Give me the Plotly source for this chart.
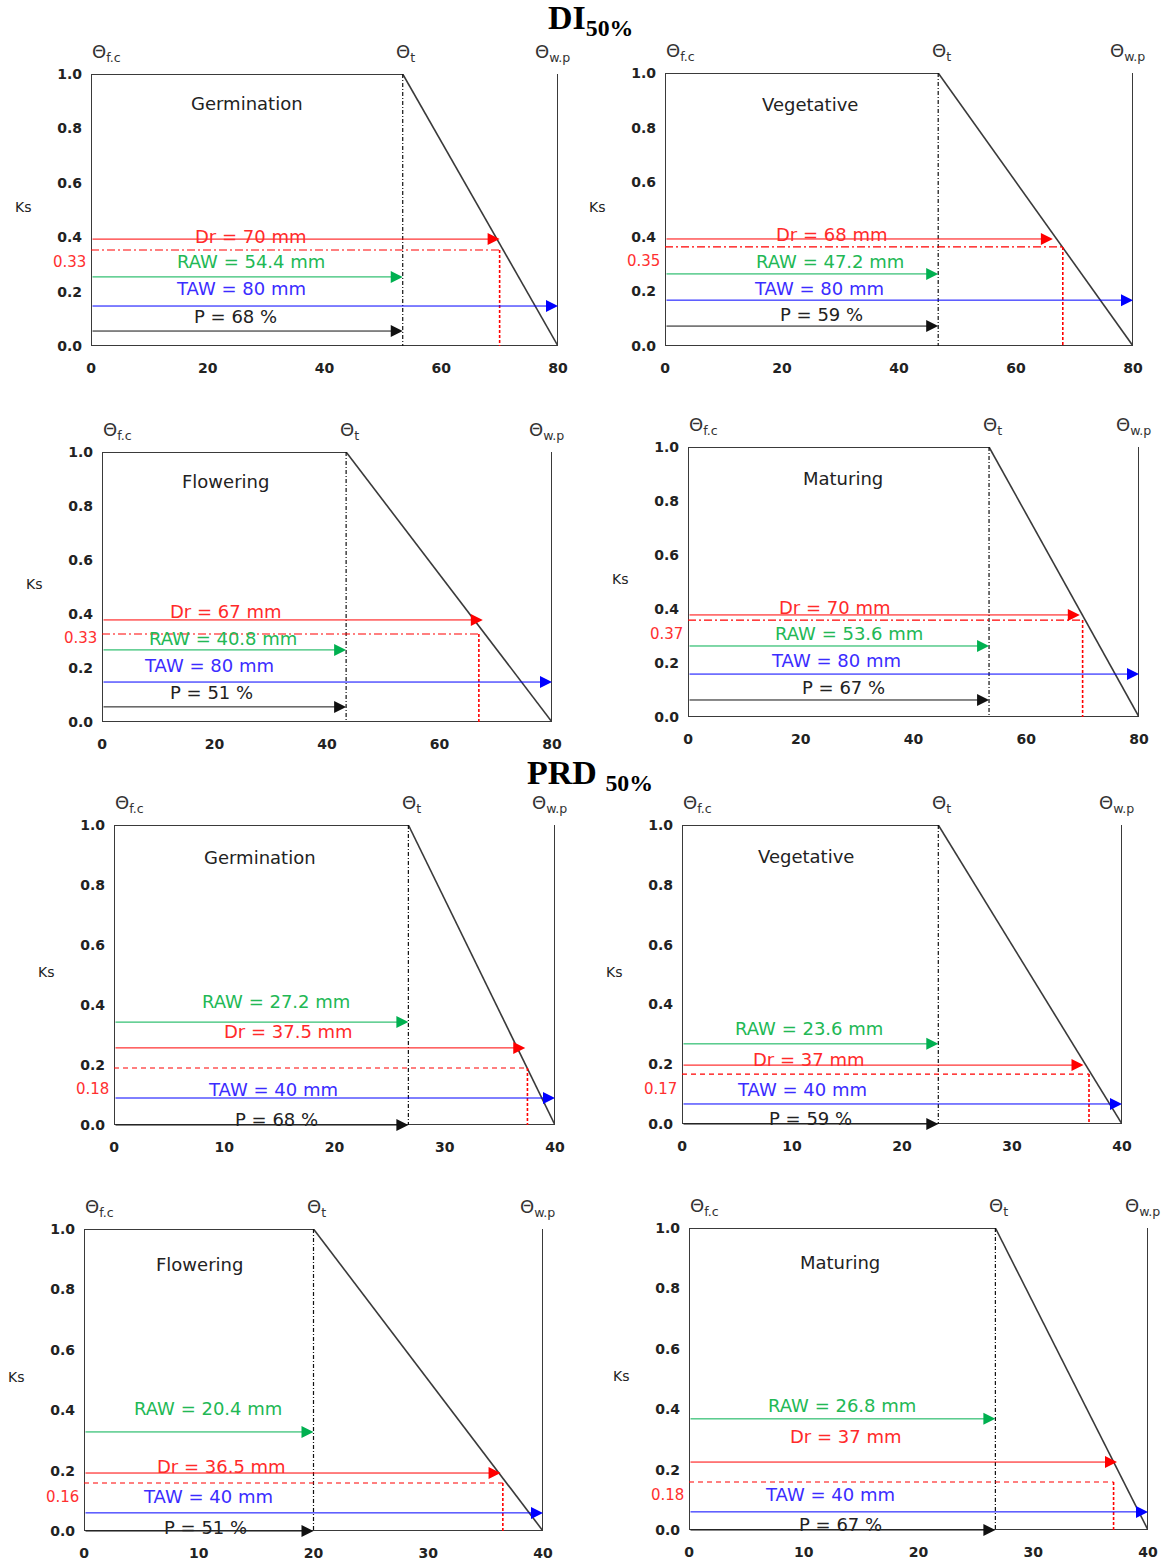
import plotly.graph_objects as go

W, H = 1164, 1562

# ---------------- data ----------------
stages = ["Germination", "Vegetative", "Flowering", "Maturing",
          "Germination", "Vegetative", "Flowering", "Maturing"]
taw = [80, 80, 80, 80, 40, 40, 40, 40]
raw_label = [54.4, 47.2, 40.8, 53.6, 27.2, 23.6, 20.4, 26.8]
theta_t = [53.4, 46.7, 43.4, 53.4, 26.7, 23.3, 20.0, 26.7]
dr_label = [70, 68, 67, 70, 37.5, 37, 36.5, 37]
dr_tip = [70, 66.3, 67.7, 69.5, 37.3, 36.5, 36.3, 37.3]
p_label = [68, 59, 51, 67, 68, 59, 51, 67]
ks_thr_label = ["0.33", "0.35", "0.33", "0.37", "0.18", "0.17", "0.16", "0.18"]

ks_dr = [0.393, 0.392, 0.378, 0.378, 0.257, 0.197, 0.192, 0.225]
ks_thr = [0.353, 0.363, 0.326, 0.359, 0.19, 0.167, 0.159, 0.159]
ks_raw = [0.254, 0.264, 0.267, 0.263, 0.343, 0.268, 0.328, 0.368]
ks_taw = [0.147, 0.168, 0.148, 0.159, 0.09, 0.067, 0.06, 0.06]
ks_p = [0.055, 0.073, 0.056, 0.063, 0.0, 0.0, 0.0, 0.0]

x_ticks_di = [0, 20, 40, 60, 80]
x_ticks_prd = [0, 10, 20, 30, 40]
y_ticks = [0.0, 0.2, 0.4, 0.6, 0.8, 1.0]
y_ticktext = ["0.0", "0.2", "0.4", "0.6", "0.8", "1.0"]

# label anchor positions (theta, Ks)
stage_pos = [(26.7, 0.89), (24.8, 0.886), (21.9, 0.889), (27.5, 0.885),
             (13.2, 0.89), (11.3, 0.893), (10.1, 0.884), (13.2, 0.887)]
dr_pos = [(27.4, 0.404), (28.4, 0.41), (22.0, 0.411), (25.9, 0.407),
          (15.8, 0.313), (11.5, 0.217), (12.0, 0.212), (13.6, 0.311)]
raw_pos = [(27.4, 0.309), (28.2, 0.311), (21.5, 0.311), (28.6, 0.311),
           (14.7, 0.41), (11.5, 0.318), (10.8, 0.407), (13.3, 0.411)]
taw_pos = [(25.7, 0.21), (26.3, 0.212), (19.0, 0.211), (26.3, 0.211),
           (14.4, 0.12), (10.9, 0.117), (10.8, 0.113), (12.3, 0.116)]
p_pos = [(24.8, 0.11), (26.7, 0.114), (19.4, 0.111), (27.5, 0.111),
         (14.7, 0.02), (11.7, 0.02), (10.6, 0.013), (13.2, 0.017)]
thr_lab_y = [0.309, 0.311, 0.311, 0.307, 0.12, 0.117, 0.113, 0.116]

# panel frames in pixels: left, right, top, bottom
frames = [(91, 558, 74, 346), (665, 1133, 73, 346),
          (102, 552, 452, 722), (688, 1139, 447, 717),
          (114, 555, 825, 1125), (682, 1122, 825, 1124),
          (84, 543, 1229, 1531), (689, 1148, 1228, 1530)]

FONT = "DejaVu Sans"
RED = "#ff0000"
GREEN = "#00b050"
BLUE = "#0000ff"
DARK = "#3a3a3a"

fig = go.Figure()
annotations = []
layout = {}

for i in range(8):
    n = i + 1
    xs = "x" if n == 1 else f"x{n}"
    ys = "y" if n == 1 else f"y{n}"
    xa = "xaxis" if n == 1 else f"xaxis{n}"
    ya = "yaxis" if n == 1 else f"yaxis{n}"
    l, r, t, b = frames[i]
    T = taw[i]
    th = theta_t[i]
    prd = i >= 4

    layout[xa] = dict(domain=[l / W, r / W], range=[0, T], anchor=ys,
                      tickvals=x_ticks_prd if prd else x_ticks_di,
                      ticks="", showgrid=False, zeroline=False, showline=False,
                      automargin=False,
                      tickfont=dict(family=FONT, size=14, color="#222", weight="bold"),
                      ticklabelstandoff=12, fixedrange=True)
    layout[ya] = dict(domain=[1 - b / H, 1 - t / H], range=[0, 1], anchor=xs,
                      tickvals=y_ticks, ticktext=y_ticktext,
                      ticks="", showgrid=False, zeroline=False, showline=False,
                      automargin=False,
                      tickfont=dict(family=FONT, size=14, color="#222", weight="bold"),
                      ticklabelstandoff=8, fixedrange=True)

    def line(xv, yv, color, width, dash="solid"):
        fig.add_trace(go.Scatter(x=xv, y=yv, xaxis=xs, yaxis=ys, mode="lines",
                                 line=dict(color=color, width=width, dash=dash),
                                 cliponaxis=False, hoverinfo="skip",
                                 showlegend=False))

    # frame: top (0..theta_t), left, bottom, right
    line([th, 0, 0, T, T], [1, 1, 0, 0, 1], DARK, 2)
    # stress slope
    line([th, T], [1, 0], DARK, 1.6)
    # theta_t vertical
    line([th, th], [1, 0], "#111", 1.2, "4px,2px,1px,2px")
    # threshold lines
    line([0, dr_label[i]], [ks_thr[i], ks_thr[i]], RED, 1.2,
         "5px,4px" if prd else "8px,3px,2px,3px")
    line([dr_label[i], dr_label[i]], [ks_thr[i], 0], RED, 1.6, "3px,2px")

    # arrows
    for xe, ye, col in [(dr_tip[i], ks_dr[i], RED), (th, ks_raw[i], GREEN),
                        (T, ks_taw[i], BLUE), (th, ks_p[i], "#111")]:
        annotations.append(dict(x=xe, y=ye, ax=0, ay=ye, xref=xs, yref=ys,
                                axref=xs, ayref=ys, text="", showarrow=True,
                                arrowhead=2, arrowsize=2.4, arrowwidth=1,
                                arrowcolor=col, standoff=0, startstandoff=0))

    def txt(x, y, s, color, size=18, yref=None, **kw):
        d = dict(x=x, y=y, xref=xs, yref=yref or ys, text=s, showarrow=False,
                 yanchor="middle",
                 font=dict(family=FONT, size=size, color=color))
        d.update(kw)
        annotations.append(d)

    txt(*stage_pos[i], stages[i], "#222")
    txt(*dr_pos[i], f"Dr = {dr_label[i]:g} mm", "#ff2a2a")
    txt(*raw_pos[i], f"RAW = {raw_label[i]:g} mm", "#22b855")
    txt(*taw_pos[i], f"TAW = {T:g} mm", "#3b2cff")
    txt(*p_pos[i], f"P = {p_label[i]} %", "#222")
    txt(0, thr_lab_y[i], ks_thr_label[i], "#ff3030", 15,
        xanchor="right", xshift=-3)
    # theta labels (above the frame)
    yp = 1 - (t - 21) / H
    txt(0, yp, "Θ<sub>f.c</sub>", "#333", 18, yref="paper", xanchor="left", xshift=-1)
    txt(th, yp, "Θ<sub>t</sub>", "#333", 18, yref="paper", xanchor="center", xshift=3)
    txt(T, yp, "Θ<sub>w.p</sub>", "#333", 18, yref="paper", xanchor="right", xshift=14)
    # Ks
    annotations.append(dict(x=0, y=0.51, xref=f"{xs} domain", yref=ys,
                            text="Ks", showarrow=False, xshift=-68,
                            xanchor="center", yanchor="middle",
                            font=dict(family=FONT, size=14, color="#222")))

# group titles
annotations.append(dict(x=590 / W, y=1 - 20 / H, xref="paper", yref="paper",
                        xanchor="center", yanchor="middle",
                        text="<b>DI<sub>50%</sub></b>", showarrow=False,
                        font=dict(family="Liberation Serif", size=34, color="#000")))
annotations.append(dict(x=590 / W, y=1 - 775 / H, xref="paper", yref="paper",
                        xanchor="center", yanchor="middle",
                        text="<b>PRD <sub>50%</sub></b>", showarrow=False,
                        font=dict(family="Liberation Serif", size=34, color="#000")))

fig.update_layout(width=W, height=H, margin=dict(l=0, r=0, t=0, b=0, autoexpand=False),
                  plot_bgcolor="white", paper_bgcolor="white",
                  showlegend=False, annotations=annotations, **layout)

fig.write_html("out.html", config={"displayModeBar": False},
               post_script="document.body.style.margin='0px';document.body.style.overflow='hidden';")
